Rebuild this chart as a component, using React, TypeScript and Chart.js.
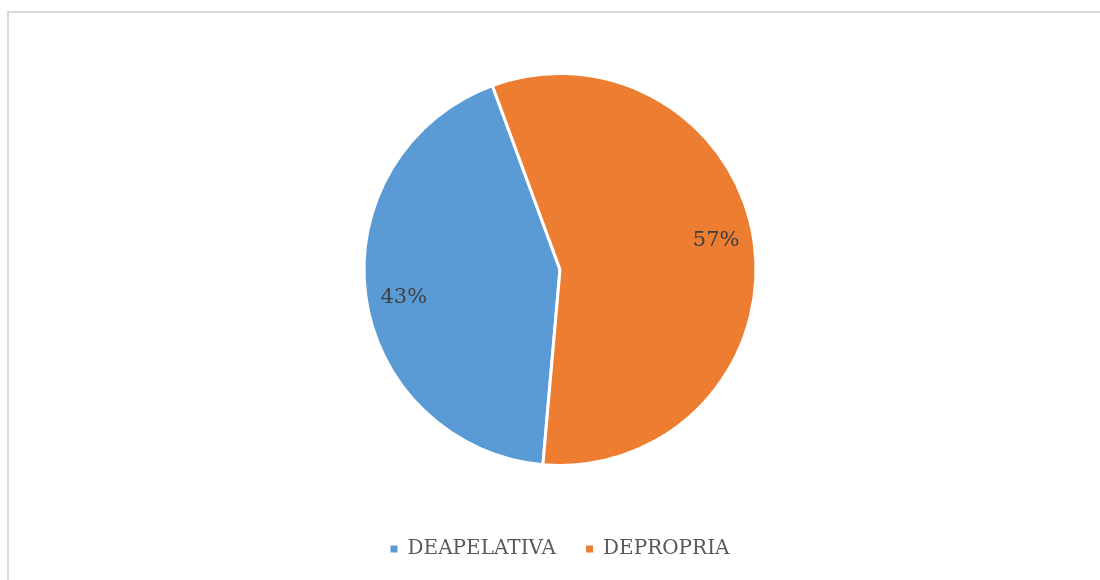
import React, { useEffect, useRef } from "react";
import { Chart, registerables } from "chart.js";

Chart.register(...registerables);

const categories = ["DEAPELATIVA", "DEPROPRIA"];
const values = [43, 57];
const percentLabels = ["43%", "57%"];
const colors = ["#5B9BD5", "#ED7D31"];

const labelPlugin = {
  id: "sliceLabels",
  afterDatasetsDraw(chart: any) {
    const ctx = chart.ctx;
    const meta = chart.getDatasetMeta(0);
    ctx.save();
    ctx.fillStyle = "#404040";
    ctx.font = "21px 'DejaVu Serif'";
    ctx.textAlign = "center";
    ctx.textBaseline = "middle";
    meta.data.forEach((arc: any, i: number) => {
      const { x, y, startAngle, endAngle, outerRadius } = arc.getProps(
        ["x", "y", "startAngle", "endAngle", "outerRadius"],
        true
      );
      const mid = (startAngle + endAngle) / 2 - 0.048;
      const r = outerRadius * 0.81;
      ctx.fillText(percentLabels[i], x + Math.cos(mid) * r, y + Math.sin(mid) * r);
    });
    ctx.restore();
  },
};

export default function App() {
  const ref = useRef<HTMLCanvasElement>(null);
  useEffect(() => {
    if (!ref.current) return;
    const chart = new Chart(ref.current, {
      type: "pie",
      data: {
        labels: categories,
        datasets: [
          {
            data: values,
            backgroundColor: colors,
            borderColor: "#ffffff",
            borderWidth: 3,
          },
        ],
      },
      options: {
        responsive: false,
        animation: false,
        rotation: 185,
        radius: 196,
        layout: { padding: { top: 30, bottom: 11, left: 20, right: 0 } },
        plugins: {
          tooltip: { enabled: false },
          legend: {
            position: "bottom",
            labels: {
              boxWidth: 7,
              boxHeight: 7,
              padding: 30,
              color: "#595959",
              font: { family: "'DejaVu Serif'", size: 20 },
              generateLabels: (c: any) =>
                categories.map((name, i) => ({
                  text: name,
                  fillStyle: colors[i],
                  strokeStyle: colors[i],
                  lineWidth: 0,
                  fontColor: "#595959",
                  hidden: false,
                  index: i,
                  datasetIndex: 0,
                })),
            },
          },
        },
      } as any,
      plugins: [labelPlugin],
    });
    return () => chart.destroy();
  }, []);

  return (
    <div
      style={{
        position: "fixed",
        left: 0,
        top: 0,
        width: 1100,
        height: 580,
        overflow: "hidden",
        background: "#ffffff",
      }}
    >
      <div
        style={{
          position: "absolute",
          left: 7,
          top: 11,
          width: 1200,
          height: 700,
          border: "2px solid #d9d9d9",
          boxSizing: "border-box",
        }}
      />
      <canvas
        ref={ref}
        width={1100}
        height={580}
        style={{ position: "absolute", left: 0, top: 0, width: 1100, height: 580 }}
      />
    </div>
  );
}
